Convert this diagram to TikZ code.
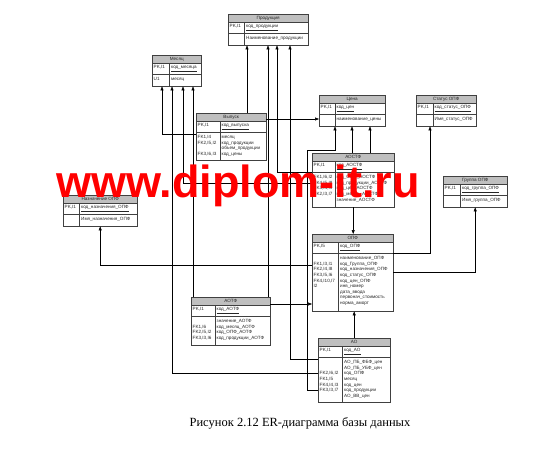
\documentclass[tikz,border=0pt]{standalone}
\usepackage{fontspec}
\setmainfont{Liberation Serif}
\newfontfamily\tblfont{Liberation Sans}
\usetikzlibrary{arrows.meta}

\definecolor{wmred}{RGB}{255,0,0}

\tikzset{
  tblline/.style={draw=black!75, line width=0.6pt},
  entity/.style={rectangle, inner sep=0pt, anchor=north west},
  hdr/.style={fill=black!25},
  tbltext/.style={inner sep=0pt, text=black!85, font=\tblfont\fontsize{4.6}{5.6}\selectfont},
  fk/.style={draw=black, line width=0.5pt, -{Triangle[length=4pt,width=3pt]}},
}

% #1 name, #2 top left, #3 width, #4 key column, #5 body height,
% #6 title, #7 pk key, #8 pk attribute, #9 body rows
\newcommand{\ertable}[9]{%
  \node[entity, minimum width=#3pt, minimum height=#5pt+19pt] (#1) at (#2) {};
  \fill[hdr] (#1.north west) rectangle ([yshift=-8.5pt]#1.north east);
  \draw[tblline] (#1.north west) rectangle (#1.south east)
    ([yshift=-8.5pt]#1.north west) -- ([yshift=-8.5pt]#1.north east)
    ([yshift=-19pt]#1.north west) -- ([yshift=-19pt]#1.north east)
    ([xshift=#4pt,yshift=-8.5pt]#1.north west) -- ([xshift=#4pt]#1.south west);
  \node[tbltext] at ([yshift=-4.25pt]#1.north) {#6};
  \node[tbltext, anchor=west] at ([xshift=1.5pt,yshift=-13.75pt]#1.north west)
    {\makebox[#4pt][l]{#7}\underline{#8}};
  \node[tbltext, anchor=north west] at ([xshift=1.5pt,yshift=-21.5pt]#1.north west)
    {\begin{tabular}{@{}p{#4pt}@{}l@{}}#9\end{tabular}};
}

\begin{document}
\begin{tikzpicture}[x=1pt,y=-1pt]
  \useasboundingbox[fill=white] (0,0) rectangle (551,460);

  \ertable{prod}{228,14}{80}{16.5}{12}{Продукция}{PK,I1}{код\_продукции}
    {& Наименование\_продукции}
  \ertable{mes}{152,55}{49}{17.5}{12}{Месяц}{PK,I1}{код\_месяца}
    {U1 & месяц}
  \ertable{vyp}{196,113}{70}{24}{28}{Выпуск}{PK,I1}{код\_выпуска}
    {FK1,I4 & месяц\\ FK2,I5,I2 & код\_продукции\\ & объем\_продукции\\ FK3,I6,I3 & код\_цены}
  \ertable{cena}{319,95}{66}{16}{12}{Цена}{PK,I1}{код\_цен}
    {& наименование\_цены}
  \ertable{stat}{416,95}{60}{17}{12}{Статус ОПФ}{PK,I1}{код\_статус\_ОПФ}
    {& Имя\_статус\_ОПФ}
  \ertable{aostf}{312,153}{82}{23}{35}{АОСТФ}{PK,I1}{код\_АОСТФ}
    {FK1,I6,I2 & код\_ОПФ\_АОСТФ\\ FK4,I5,I8 & код\_продукции\_АОСТФ\\ FK3,I4,I9 & код\_цен\_АОСТФ\\ FK2,I3,I7 & код\_месяц\_АОСТФ\\ & значение\_АОСТФ}
  \ertable{nazn}{63,195}{74}{16.5}{12}{Назначение ОПФ}{PK,I1}{код\_назначения\_ОПФ}
    {& Имя\_назначения\_ОПФ}
  \ertable{grp}{443,176}{64}{17.5}{12}{Группа ОПФ}{PK,I1}{код\_группа\_ОПФ}
    {& Имя\_группа\_ОПФ}
  \ertable{opf}{312,234}{81}{26.5}{58}{ОПФ}{PK,I5}{код\_ОПФ}
    {& наименование\_ОПФ\\ FK1,I3,I1 & код\_Группа\_ОПФ\\ FK2,I4,I8 & код\_назначения\_ОПФ\\ FK3,I5,I6 & код\_статус\_ОПФ\\ FK4,I10,I7 & код\_цен\_ОПФ\\ I2 & инв\_номер\\ & дата\_ввода\\ & первонач\_стоимость\\ & норма\_аморт}
  \ertable{aotf}{191,297}{79}{24}{29}{АОТФ}{PK,I1}{код\_АОТФ}
    {& значение\_АОТФ\\ FK1,I6 & код\_месяц\_АОТФ\\ FK2,I5,I2 & код\_ОПФ\_АОТФ\\ FK3,I3,I6 & код\_продукции\_АОТФ}
  \ertable{ao}{318,338}{72}{24.5}{45}{АО}{PK,I1}{код\_АО}
    {& АО\_ПБ\_ФБФ\_цен\\ & АО\_ПБ\_УБФ\_цен\\ FK2,I6,I2 & код\_ОПФ\\ FK1,I5 & месяц\\ FK4,I4,I3 & код\_цен\\ FK3,I3,I7 & код\_продукции\\ & АО\_ВВ\_цен}

  \coordinate (mes1) at ([xshift=10pt]mes.south west);
  \coordinate (mes2) at ([xshift=20pt]mes.south west);
  \coordinate (mes3) at ([xshift=31pt]mes.south west);
  \coordinate (mes4) at ([xshift=41pt]mes.south west);
  \coordinate (prod1) at ([xshift=19pt]prod.south west);
  \coordinate (prod2) at ([xshift=40pt]prod.south west);
  \coordinate (prod3) at ([xshift=49pt]prod.south west);
  \coordinate (prod4) at ([xshift=62pt]prod.south west);
  \coordinate (cena1) at ([xshift=16pt]cena.south west);
  \coordinate (cena2) at ([xshift=33pt]cena.south west);
  \coordinate (cena3) at ([xshift=51pt]cena.south west);
  \coordinate (stat1) at ([xshift=14pt]stat.south west);

  \coordinate (vyp_fk1) at ([yshift=-21pt]vyp.north west);
  \coordinate (vyp_fk3) at ([yshift=-6pt]vyp.north east);
  \coordinate (aostf_fk4) at ([yshift=-19pt]aostf.north west);
  \coordinate (aostf_fk2) at ([yshift=-30pt]aostf.north west);
  \coordinate (opf_fk2) at ([yshift=-31pt]opf.north west);
  \coordinate (opf_fk3) at ([yshift=-19pt]opf.north east);
  \coordinate (opf_fk1) at ([yshift=-38pt]opf.north east);
  \coordinate (aotf_fk2) at ([yshift=-7pt]aotf.north east);
  \coordinate (ao_fk3) at ([yshift=-21pt]ao.north west);
  \coordinate (ao_fk1) at ([yshift=-35pt]ao.north west);
  \coordinate (ao_fk4) at ([yshift=-52pt]ao.north west);

  \draw[fk] (vyp_fk1) -| (mes1);
  \draw[fk] (vyp.north -| prod1) -- (prod1);
  \draw[fk] (vyp_fk3) -- (vyp_fk3 -| cena.west);
  \draw[fk] (aostf_fk4) -| (prod3);
  \draw[fk] (aostf_fk2) -| (mes3);
  \draw[fk] (aostf.north -| cena2) -- (cena2);
  \draw[fk] (aostf.north -| cena3) -- (cena3);
  \draw[fk] (aostf.south) -- (aostf.south |- opf.north);
  \draw[fk] (opf_fk2) -| (nazn.south);
  \draw[fk] (opf_fk3) -| (stat1);
  \draw[fk] (opf_fk1) -| (grp.south);
  \draw[fk] (aotf_fk2) -- (aotf_fk2 -| opf.west);
  \draw[fk] (aotf.north -| mes4) -- (mes4);
  \draw[fk] (aotf.north -| prod2) -- (prod2);
  \draw[fk] (ao.north) -- (ao.north |- opf.south);
  \draw[fk] (ao_fk3) -| (prod4);
  \draw[fk] (ao_fk1) -| (mes2);
  \draw[fk] (ao_fk4) -- ++(-11,0) |- ([yshift=-24pt]cena1) -- (cena1);

  \node[anchor=base, font=\fontsize{12.5}{14}\selectfont] (caption) at (300,426)
    {Рисунок 2.12 ER-диаграмма базы данных};
  \node[anchor=base west, inner sep=0pt, text=wmred,
    font=\tblfont\bfseries\fontsize{45}{50}\selectfont] (watermark) at (56,197)
    {www.diplom-it.ru};
\end{tikzpicture}
\end{document}
